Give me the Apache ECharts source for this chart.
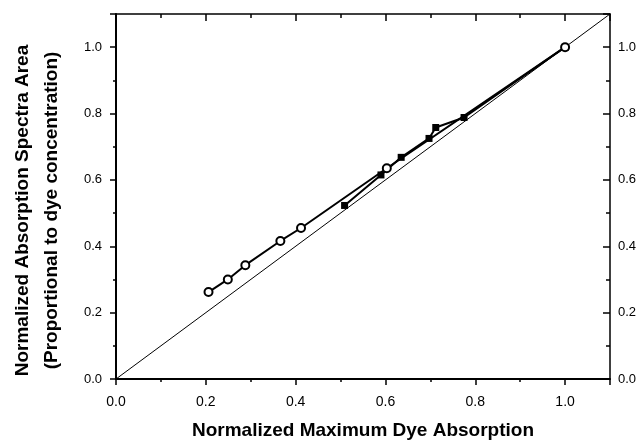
<!DOCTYPE html>
<html>
<head>
<meta charset="utf-8">
<script src="https://cdn.jsdelivr.net/npm/echarts@6/dist/echarts.min.js"></script>
<style>html,body{margin:0;padding:0;background:#fff}#c{width:643px;height:445px}</style>
</head>
<body>
<div id="c"></div>
<script>
// Data
const circleX = [0.206, 0.249, 0.288, 0.366, 0.412, 0.603, 1.0];
const circleY = [0.262, 0.300, 0.343, 0.416, 0.455, 0.635, 1.0];
const squareX = [0.509, 0.590, 0.635, 0.697, 0.712, 0.775, 1.0];
const squareY = [0.523, 0.615, 0.668, 0.725, 0.758, 0.788, 1.0];
const diagX = [0, 1.1];
const diagY = [0, 1.1];
const xTitle = 'Normalized Maximum Dye Absorption';
const yTitle = 'Normalized Absorption Spectra Area\n(Proportional to dye concentration)';

const zip = (a, b) => a.map((v, i) => [v, b[i]]);
const font = 'Arial, "Liberation Sans", sans-serif';

const chart = echarts.init(document.getElementById('c'), null, {renderer: 'canvas'});
const baseAxis = {
  type: 'value', min: 0, max: 1.1, interval: 0.2,
  splitLine: {show: false},
  minorTick: {show: true, splitNumber: 2},
  axisLine: {show: true, onZero: false, lineStyle: {color: '#000', width: 2}},
};
chart.setOption({
  animation: false,
  backgroundColor: '#fff',
  grid: {left: 113, right: 33, top: 14, bottom: 61},
  xAxis: [
    Object.assign({}, baseAxis, {
      position: 'bottom',
      axisTick: {show: true, inside: false, length: 6, lineStyle: {color: '#000', width: 1.5}},
      minorTick: {show: true, splitNumber: 2, length: 3, lineStyle: {color: '#000', width: 1.5}},
      axisLabel: {color: '#000', fontFamily: font, fontSize: 14, margin: 16,
        formatter: v => v.toFixed(1), showMaxLabel: false},
      name: xTitle, nameLocation: 'middle', nameGap: 42,
      nameTextStyle: {color: '#000', fontFamily: font, fontSize: 19, fontWeight: 'bold'}
    }),
    Object.assign({}, baseAxis, {
      position: 'top',
      axisLine: {show: true, onZero: false, lineStyle: {color: '#000', width: 1.5}},
      axisTick: {show: true, inside: true, length: 7, lineStyle: {color: '#000', width: 1.5}},
      minorTick: {show: true, splitNumber: 2, length: 4, lineStyle: {color: '#000', width: 1.5}},
      axisLabel: {show: false}
    })
  ],
  yAxis: [
    Object.assign({}, baseAxis, {
      position: 'left',
      axisTick: {show: true, inside: false, length: 6, lineStyle: {color: '#000', width: 1.5}},
      minorTick: {show: true, splitNumber: 2, length: 3, lineStyle: {color: '#000', width: 1.5}},
      axisLabel: {color: '#000', fontFamily: font, fontSize: 13, margin: 14,
        formatter: v => v.toFixed(1), showMaxLabel: false},
      name: yTitle, nameLocation: 'middle', nameGap: 50, nameRotate: 90,
      nameTextStyle: {color: '#000', fontFamily: font, fontSize: 19, fontWeight: 'bold', lineHeight: 29, align: 'center',
        padding: [0, 28, 0, 0]}
    }),
    Object.assign({}, baseAxis, {
      position: 'right',
      axisLine: {show: true, onZero: false, lineStyle: {color: '#000', width: 1.5}},
      axisTick: {show: true, inside: true, length: 7, lineStyle: {color: '#000', width: 1.5}},
      minorTick: {show: true, splitNumber: 2, length: 4, lineStyle: {color: '#000', width: 1.5}},
      axisLabel: {color: '#000', fontFamily: font, fontSize: 13, margin: 8,
        formatter: v => v.toFixed(1), showMaxLabel: false}
    })
  ],
  series: [
    {type: 'line', data: zip(diagX, diagY), symbol: 'none', silent: true,
      lineStyle: {color: '#000', width: 1}},
    {type: 'line', data: zip(squareX, squareY), symbol: 'rect', symbolSize: 7,
      itemStyle: {color: '#000'}, lineStyle: {color: '#000', width: 2}},
    {type: 'line', data: zip(circleX, circleY), symbol: 'circle', symbolSize: 8,
      itemStyle: {color: '#fff', borderColor: '#000', borderWidth: 2},
      lineStyle: {color: '#000', width: 2}},
    {type: 'scatter', data: zip(circleX, circleY), symbol: 'circle', symbolSize: 2,
      itemStyle: {color: '#000'}, silent: true}
  ]
});
</script>
</body>
</html>
